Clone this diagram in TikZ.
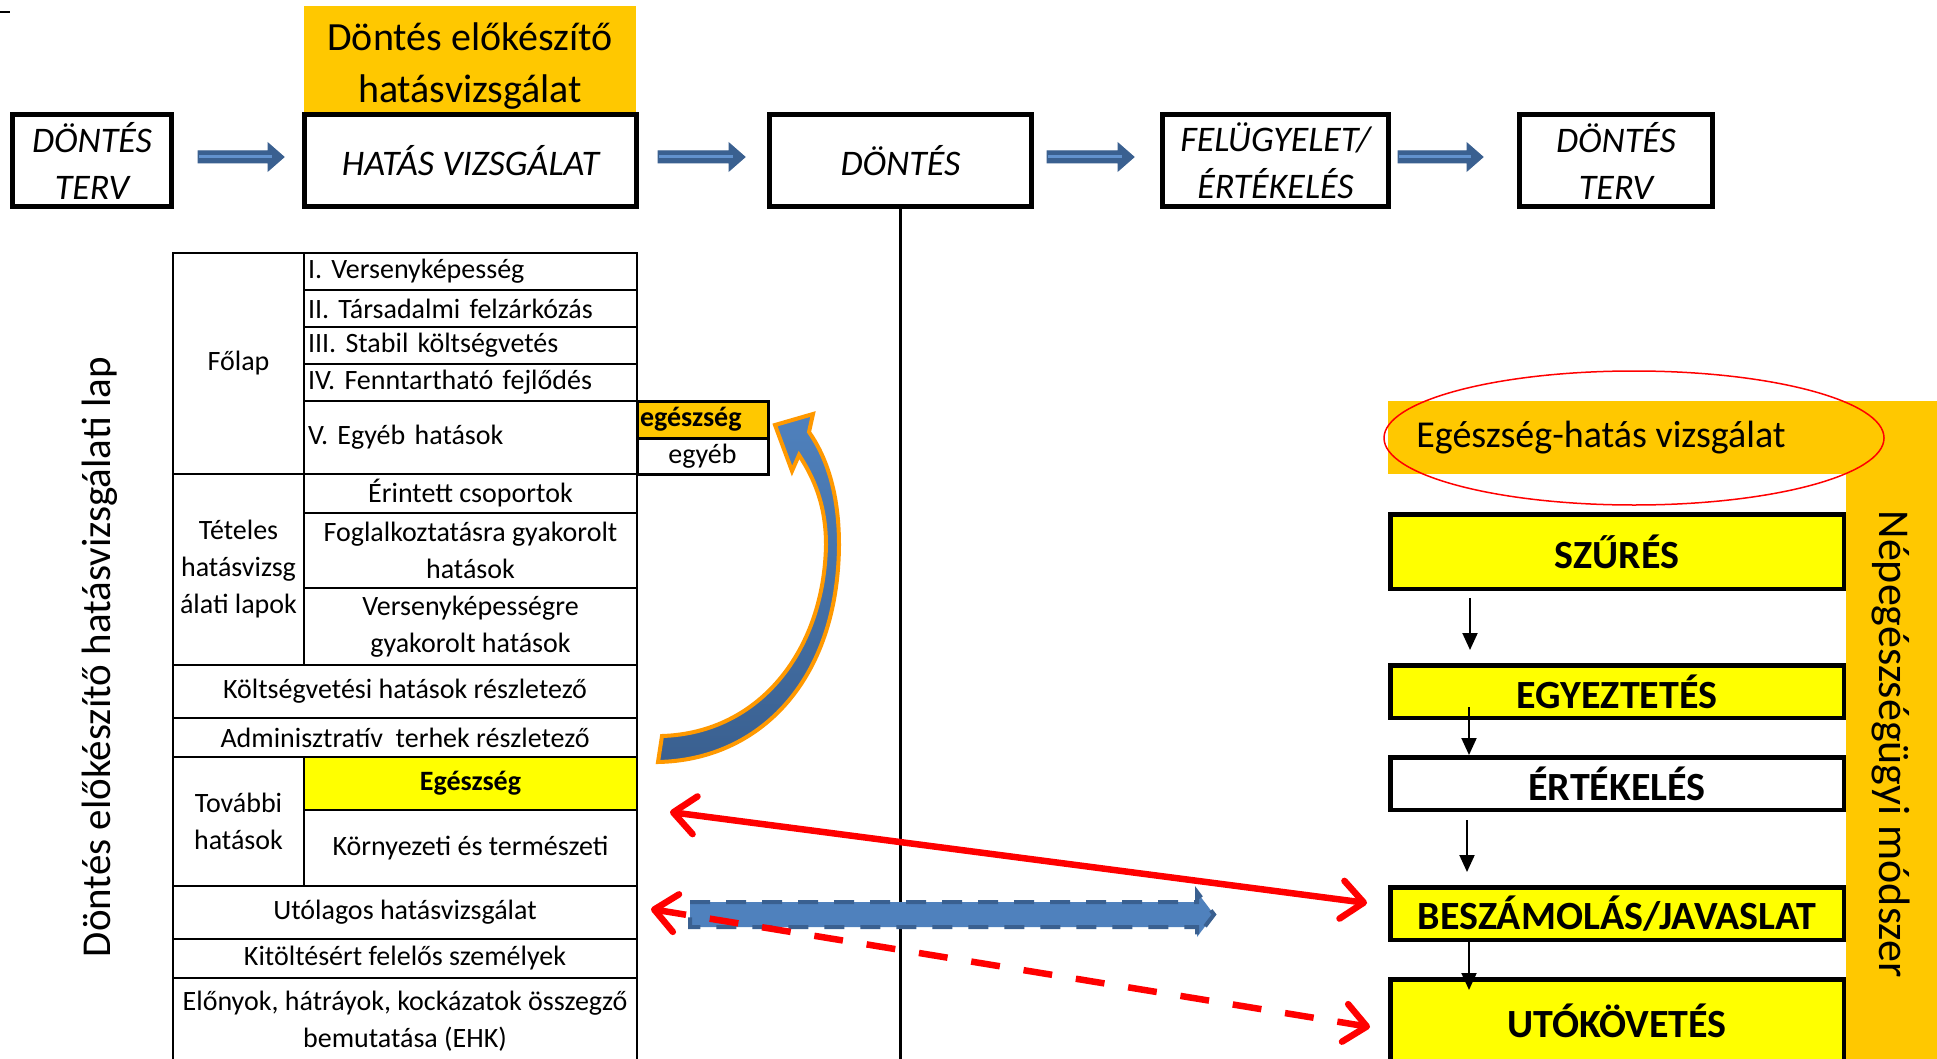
\documentclass[tikz,border=0pt]{standalone}
\usepackage{fontspec}
\setmainfont{Carlito}
\usetikzlibrary{arrows.meta,calc,shapes.geometric}
\definecolor{gold}{RGB}{255,200,0}
\definecolor{yel}{RGB}{255,255,0}
\definecolor{bluefill}{RGB}{79,129,189}
\definecolor{bluedark}{RGB}{58,96,144}
\definecolor{bluelight}{RGB}{98,146,206}
\definecolor{orng}{RGB}{255,153,0}
\definecolor{redc}{RGB}{255,0,0}
\newcommand\myblockarr[2]{%
 \path[fill=bluedark, draw=bluedark, line width=1] let \p1=(#1), \p2=(#2) in
 (\x1,\y1+6) -- (\x2-16,\y1+6) -- (\x2-16,\y1+14) -- (\x2,\y1) -- (\x2-16,\y1-14) -- (\x2-16,\y1-6) -- (\x1,\y1-6) -- cycle;
 \path[draw=bluelight, line width=3] let \p1=(#1), \p2=(#2) in (\x1+1,\y1) -- (\x2-12,\y1);}
\begin{document}
\frenchspacing
\begin{tikzpicture}[x=1pt, y=-1pt,
 topbox/.style={draw, line width=5, inner sep=0, minimum height=92, align=center, font=\fontsize{36}{47}\selectfont\itshape},
 cell/.style={draw, line width=2.5, inner sep=0, outer sep=0, anchor=north west, align=center, font=\fontsize{28}{37}\selectfont},
 lcell/.style={cell, align=left, inner xsep=4, text width=325},
 rbox/.style={draw, line width=4.5, inner sep=0, minimum width=453.5, font=\fontsize{40}{48}\selectfont\bfseries},
 smallarr/.style={line width=2, -{Triangle[length=17pt,width=15pt]}},
 redarr/.style={draw=redc, line width=6.5, {Straight Barb[length=22pt,width=38pt,round]}-{Straight Barb[length=22pt,width=38pt,round]}},
]
\useasboundingbox (0,0) rectangle (1937,1059);
\fill[white] (0,0) rectangle (1937,1059);
\draw[line width=2.5] (0,12) -- (10,12);

% header
\node[fill=gold, minimum width=332, minimum height=106, inner sep=0] (hdr) at (470,59) {};
\node[align=center, inner sep=0, font=\fontsize{40}{52}\selectfont] (hdrtext) at (470,66) {Döntés előkészítő\\hatásvizsgálat};

% top boxes
\node[topbox, minimum width=159] (tb1) at (92,160.5) {DÖNTÉS\\TERV};
\node[topbox, minimum width=332] (tb2) at (470.5,160.5) {HATÁS VIZSGÁLAT};
\node[topbox, minimum width=262] (tb3) at (900.5,160.5) {DÖNTÉS};
\node[topbox, minimum width=226] (tb4) at (1275.5,160.5) {FELÜGYELET/\\ÉRTÉKELÉS};
\node[topbox, minimum width=193] (tb5) at (1616,160.5) {DÖNTÉS\\TERV};

\coordinate (a1s) at ($(tb1.east)+(24,-3.5)$);
\coordinate (a1e) at ($(tb2.west)+(-18,-3.5)$);
\coordinate (a2s) at ($(tb2.east)+(19,-3.5)$);
\coordinate (a2e) at ($(tb3.west)+(-22,-3.5)$);
\coordinate (a3s) at ($(tb3.east)+(13,-3.5)$);
\coordinate (a3e) at ($(tb4.west)+(-26,-3.5)$);
\coordinate (a4s) at ($(tb4.east)+(7,-3.5)$);
\coordinate (a4e) at ($(tb5.west)+(-34,-3.5)$);
\myblockarr{a1s}{a1e}
\myblockarr{a2s}{a2e}
\myblockarr{a3s}{a3e}
\myblockarr{a4s}{a4e}

% vertical line
\coordinate (vbot) at (900.5,1059);
\draw[line width=2.5] (tb3.south) -- (vbot);

% side label
\node[rotate=90, font=\fontsize{41}{48}\selectfont] (side) at (100,657) {Döntés előkészítő hatásvizsgálati lap};

% table
\node[cell, minimum width=131, minimum height=221] (folap) at (173,253) {Főlap};
\node[lcell, minimum height=37] (r1) at (304,253) {I. Versenyképesség};
\node[lcell, minimum height=37] (r2) at (304,290) {II. Társadalmi felzárkózás};
\node[lcell, minimum height=37] (r3) at (304,327) {III. Stabil költségvetés};
\node[lcell, minimum height=37] (r4) at (304,364) {IV. Fenntartható fejlődés};
\node[lcell, minimum height=73] (r5) at (304,401) {V. Egyéb hatások};
\node[cell, line width=3, fill=gold, text width=125, inner xsep=3, align=left, minimum height=37, font=\fontsize{28}{37}\selectfont\bfseries] (egs) at (637,401) {egészség};
\node[cell, line width=3, minimum width=131, minimum height=36] (egyeb) at (637,438) {egyéb};
\node[cell, minimum width=131, minimum height=191] (tet) at (173,474) {Tételes\\hatásvizsg\\álati lapok};
\node[cell, minimum width=333, minimum height=39] (t1) at (304,474) {Érintett csoportok};
\node[cell, minimum width=333, minimum height=75] (t2) at (304,513) {Foglalkoztatásra gyakorolt\\hatások};
\node[cell, minimum width=333, minimum height=77] (t3) at (304,588) {Versenyképességre\\gyakorolt hatások};
\node[cell, minimum width=464, minimum height=53] (kolt) at (173,665) {Költségvetési hatások részletező};
\node[cell, minimum width=464, minimum height=39] (adm) at (173,718) {Adminisztratív\ \ terhek részletező};
\node[cell, minimum width=131, minimum height=129] (tov) at (173,757) {További\\hatások};
\node[cell, fill=yel, minimum width=333, minimum height=53, font=\fontsize{28}{37}\selectfont\bfseries] (egz) at (304,757) {Egészség};
\node[cell, minimum width=333, minimum height=76] (korn) at (304,810) {Környezeti és természeti};
\node[cell, minimum width=464, minimum height=53] (uto) at (173,886) {Utólagos hatásvizsgálat};
\node[cell, minimum width=464, minimum height=39] (kit) at (173,939) {Kitöltésért felelős személyek};
\node[cell, minimum width=464, minimum height=87] (elo) at (173,978) {Előnyok, hátráyok, kockázatok összegző\\bemutatása (EHK)};

% right side bands
\node[fill=gold, anchor=north west, inner sep=0, minimum width=549, minimum height=73] (band) at (1388,401) {};
\node[fill=gold, anchor=north west, inner sep=0, minimum width=91, minimum height=658] (vband) at (1846,401) {};
\node[ellipse, draw=redc, line width=1.5, minimum width=500, minimum height=134, inner sep=0] (ell) at (1634,438) {};
\node[font=\fontsize{38}{46}\selectfont] (ehv) at (1601,438) {Egészség-hatás vizsgálat};
\node[rotate=-90, font=\fontsize{44}{52}\selectfont] (nep) at (1891,744) {Népegészségügyi módszer};

% right boxes
\node[rbox, fill=yel, minimum height=74.5] (szures) at (1617,551.5) {SZŰRÉS};
\node[rbox, fill=yel, minimum height=52.5] (egyez) at (1617,691.5) {EGYEZTETÉS};
\node[rbox, fill=white, minimum height=52.5] (ertek) at (1617,783.5) {ÉRTÉKELÉS};
\node[rbox, fill=yel, minimum height=52.5] (besz) at (1617,913.5) {BESZÁMOLÁS/JAVASLAT};
\node[rbox, fill=yel, minimum height=83.5] (utok) at (1617,1021) {UTÓKÖVETÉS};

\draw[smallarr] ($(szures.south west)+(82,7)$) -- ($(egyez.north west)+(82,-13)$);
\draw[smallarr] ($(egyez.south west)+(81,-13)$) -- ($(ertek.north west)+(81,0)$);
\draw[smallarr] ($(ertek.south west)+(79,8)$) -- ($(besz.north west)+(79,-13)$);
\draw[smallarr] ($(besz.south west)+(81,0)$) -- ($(utok.north west)+(81,13)$);

% curved arrow
\path[draw=orng, line width=4, top color=bluefill, bottom color=bluedark, line join=miter]
 (658,762) .. controls (760,760) and (838,680) .. (839,545)
 .. controls (839,490) and (825,455) .. (809,432) -- (813,414) -- (775,425) -- (792,471) -- (799,455)
 .. controls (814,478) and (826,505) .. (826,545)
 .. controls (824,650) and (760,733) .. (662,736) -- cycle;

% blue dashed block arrow
\coordinate (bs) at ($(uto.east)+(53,2)$);
\coordinate (be) at (1214,914.5);
\path[fill=bluefill, draw=bluedark, line width=4, dash pattern=on 20pt off 16pt] let \p1=(bs), \p2=(be) in
 (\x1,\y1+12.5) -- (\x2-17,\y1+12.5) -- (\x2-17,\y1+22.5) -- (\x2,\y1) -- (\x2-17,\y1-22.5) -- (\x2-17,\y1-12.5) -- (\x1,\y1-12.5) -- cycle;

% red arrows
\coordinate (r1s) at ($(egz.south east)+(33,2)$);
\coordinate (r1e) at ($(besz.west)+(-21,-10.5)$);
\draw[redarr] (r1s) -- (r1e);
\coordinate (r2s) at ($(uto.east)+(14,-3.5)$);
\coordinate (r2e) at ($(utok.west)+(-18,6)$);
\draw[redarr, dash pattern=on 29pt off 24pt] (r2s) -- (r2e);
\end{tikzpicture}
\end{document}
